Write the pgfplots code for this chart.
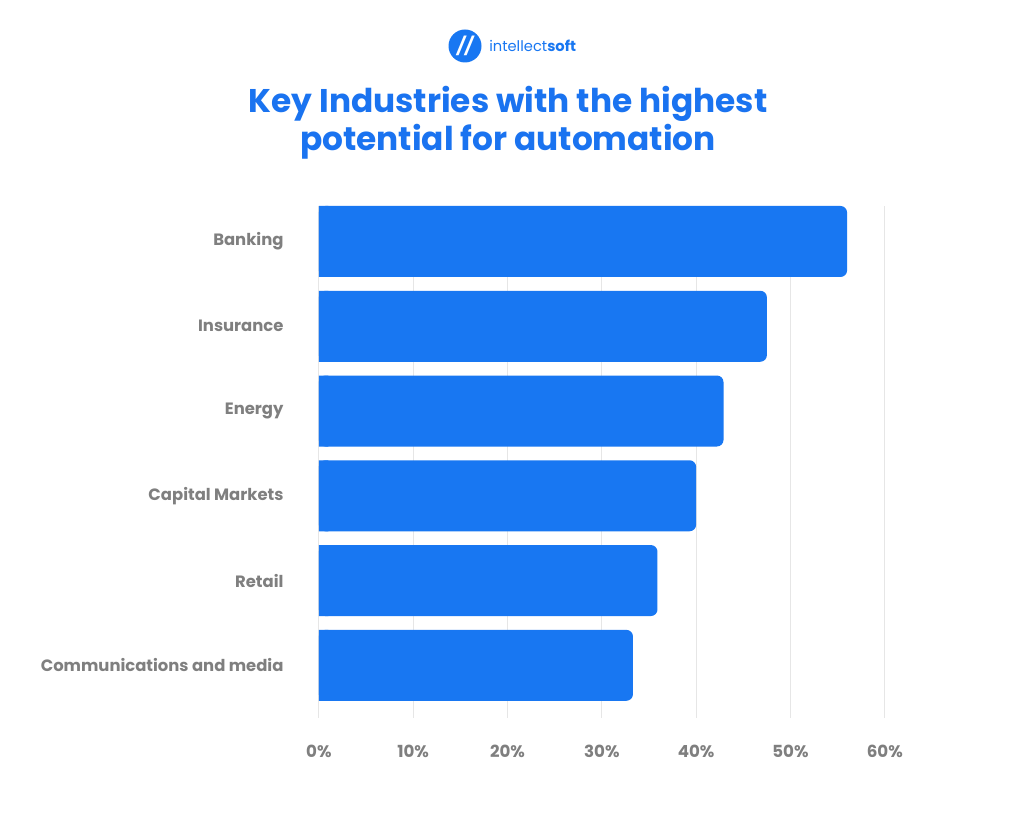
\documentclass[border=0pt]{standalone}
\usepackage{pgfplots}
\pgfplotsset{compat=1.18}
\usepackage{fontspec}
\setmainfont{Poppins}
\definecolor{barblue}{HTML}{1877F2}
\definecolor{titleblue}{HTML}{1A73F0}
\definecolor{labgrey}{HTML}{7F7F7F}
\definecolor{gridgrey}{HTML}{E6E6E6}
\begin{document}
\begin{tikzpicture}[x=0.75pt,y=0.75pt]
\fill[white] (0,0) rectangle (1024,823);
% logo
\fill[barblue] (465,777) circle (16.5);
\node[white,font=\bfseries\itshape\fontsize{13}{13}\selectfont] at (465,777) {//};
\node[anchor=west,inner sep=0pt,font=\fontsize{11}{13}\selectfont,text=barblue] at (489,777) {intellect\textbf{soft}};
% title
\node[align=center,text=titleblue,font=\bfseries\fontsize{24.6}{28.5}\selectfont] at (508,700) {Key Industries with the highest\\potential for automation};
\begin{axis}[
  at={(338,124)}, anchor=south west,
  scale only axis, width=424.5pt, height=384pt,
  xmin=0, xmax=60, ymin=-0.62, ymax=5.42,
  xtick={0,10,...,60},
  xticklabels={0\%,10\%,20\%,30\%,40\%,50\%,60\%},
  xticklabel style={font=\bfseries\fontsize{12.5}{13}\selectfont, text=labgrey, yshift=-17pt},
  ytick={0,1,2,3,4,5},
  yticklabels={Communications and media,Retail,Capital Markets,Energy,Insurance,Banking},
  yticklabel style={font=\bfseries\fontsize{12.3}{13}\selectfont, text=labgrey, xshift=-23pt, anchor=east},
  axis line style={draw=none},
  major tick length=0pt,
  xmajorgrids, grid style={gridgrey, line width=0.9pt},
  clip=false,
]
\addplot[xbar, bar width=53.25pt, fill=barblue, draw=none, rounded corners=5pt]
  coordinates {(33.3,0) (35.9,1) (40,2) (42.9,3) (47.5,4) (56,5)};
% short square pieces that make the left ends square
\addplot[xbar, bar width=53.25pt, fill=barblue, draw=none]
  coordinates {(1,0) (1,1) (1,2) (1,3) (1,4) (1,5)};
\end{axis}
\end{tikzpicture}
\end{document}
